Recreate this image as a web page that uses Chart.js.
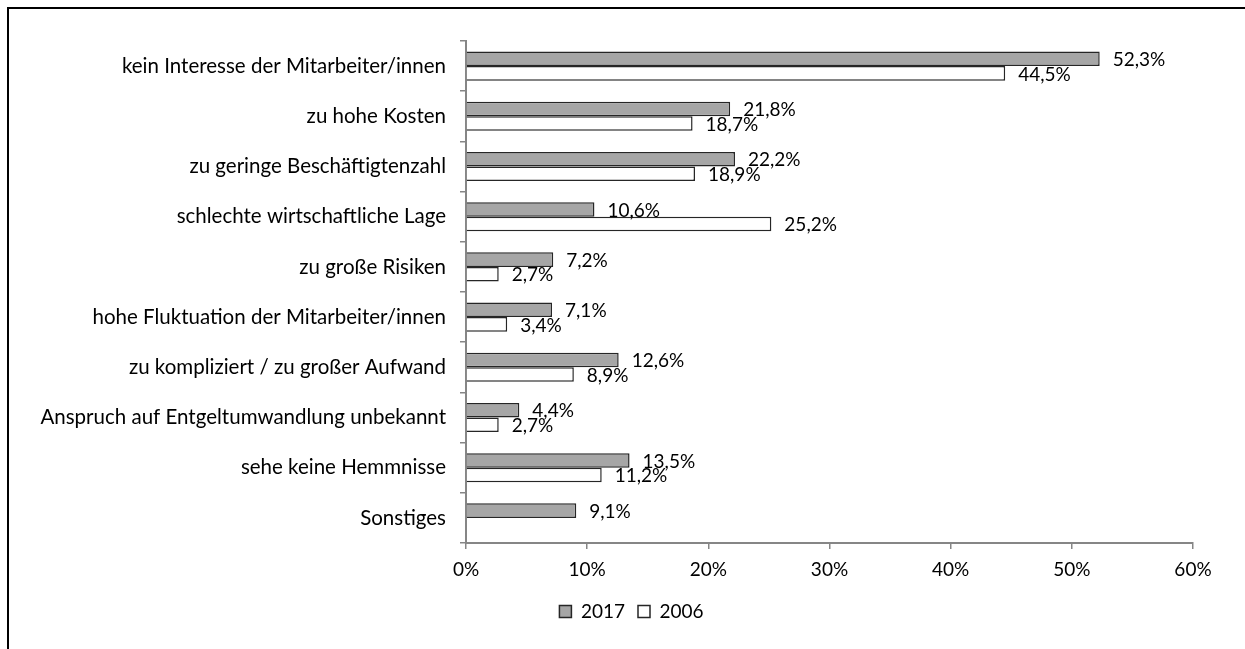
<!DOCTYPE html>
<html>
<head>
<meta charset="utf-8">
<script src="https://cdn.jsdelivr.net/npm/chart.js@4"></script>
<style>
  html, body { margin:0; padding:0; background:#fff; overflow:hidden; }
  #frame { position:absolute; left:7px; top:7px; width:1300px; height:700px; border:2px solid #000; box-sizing:border-box; }
  canvas { position:absolute; left:0; top:0; display:block; }
</style>
</head>
<body>
<div id="frame"></div>
<canvas id="c" width="1245" height="649"></canvas>
<script>
const categories = [
  'kein Interesse der Mitarbeiter/innen',
  'zu hohe Kosten',
  'zu geringe Beschäftigtenzahl',
  'schlechte wirtschaftliche Lage',
  'zu große Risiken',
  'hohe Fluktuation der Mitarbeiter/innen',
  'zu kompliziert / zu großer Aufwand',
  'Anspruch auf Entgeltumwandlung unbekannt',
  'sehe keine Hemmnisse',
  'Sonstiges'
];
const values2017 = [52.3, 21.8, 22.2, 10.6, 7.2, 7.1, 12.6, 4.4, 13.5, 9.1];
const values2006 = [44.5, 18.7, 18.9, 25.2, 2.7, 3.4, 8.9, 2.7, 11.2, null];
const seriesNames = ['2017', '2006'];
const xTicks = [0, 10, 20, 30, 40, 50, 60];

const FONT_FAMILY = 'Lato, "Open Sans", sans-serif';
const font = { family: FONT_FAMILY, size: 19 };
const catFont = { family: FONT_FAMILY, size: 20.5 };
const axisGray = '#868686';

const fmt = v => v.toFixed(1).replace('.', ',') + '%';

const dataLabels = {
  id: 'dataLabels',
  afterDatasetsDraw(chart) {
    const ctx = chart.ctx;
    ctx.save();
    ctx.font = `${font.size}px ${FONT_FAMILY}`;
    ctx.fillStyle = '#000';
    ctx.textAlign = 'left';
    ctx.textBaseline = 'middle';
    chart.data.datasets.forEach((ds, di) => {
      const meta = chart.getDatasetMeta(di);
      meta.data.forEach((el, i) => {
        const v = ds.data[i];
        if (v === null || v === undefined) return;
        ctx.fillText(fmt(v), el.x + 13, el.y + 1);
      });
    });
    ctx.restore();
  }
};

// shift the legend block horizontally so it sits where the reference has it
const legendShift = {
  id: 'legendShift',
  afterLayout(chart) {
    const lg = chart.legend;
    if (lg) { lg.left += 50; lg.right += 0; }
  }
};

new Chart(document.getElementById('c'), {
  type: 'bar',
  data: {
    labels: categories,
    datasets: [
      { label: seriesNames[0], data: values2017, backgroundColor: '#a6a6a6', borderColor: '#262626', borderWidth: 1.5, categoryPercentage: 0.58, barPercentage: 1.0 },
      { label: seriesNames[1], data: values2006, backgroundColor: '#ffffff', borderColor: '#262626', borderWidth: 1.5, categoryPercentage: 0.58, barPercentage: 1.0 }
    ]
  },
  options: {
    indexAxis: 'y',
    responsive: false,
    animation: false,
    layout: { padding: { left: 20, right: 52, top: 41, bottom: 18 } },
    scales: {
      x: {
        min: 0, max: 60,
        afterBuildTicks(s) { s.ticks = xTicks.map(v => ({ value: v })); },
        ticks: { callback: v => v + '%', color: '#000', font, padding: 9 },
        grid: { drawOnChartArea: false, tickLength: 6, color: axisGray, lineWidth: 1.5 },
        border: { color: axisGray, width: 2 },
        afterFit(s) { s.height = 46; }
      },
      y: {
        ticks: { color: '#000', font: catFont, padding: 14, autoSkip: false },
        grid: { drawOnChartArea: false, tickLength: 6, color: axisGray, lineWidth: 1.5 },
        border: { color: axisGray, width: 2 },
        afterFit(s) { s.width = 446; }
      }
    },
    plugins: {
      legend: {
        position: 'bottom',
        labels: { boxWidth: 12, boxHeight: 12, font, color: '#000', padding: 13 }
      },
      tooltip: { enabled: false }
    }
  },
  plugins: [dataLabels, legendShift]
});
</script>
</body>
</html>
